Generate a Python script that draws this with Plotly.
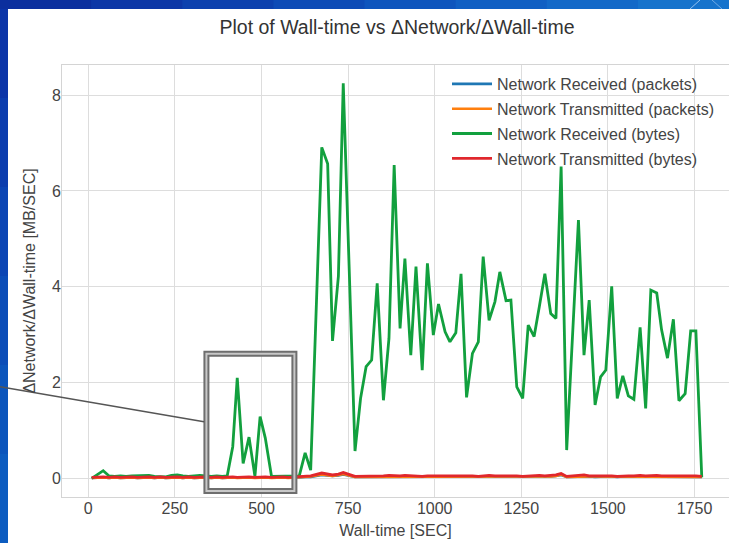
import plotly.graph_objects as go

# ---------------- data ----------------
wall_time = [
    10, 26, 43, 60, 76, 93, 109, 126, 142, 159, 175, 191, 208, 224, 240, 257, 273, 289, 306, 322, 338, 355, 371, 387, 401,
    417, 430, 447, 464, 481, 496, 511, 529, 545, 561, 577, 593, 609, 626, 642,
    674, 691, 705, 722, 736,
    770, 786, 802, 818, 834, 852, 868, 883, 900, 914, 931, 946, 964, 979, 996, 1011, 1030, 1044, 1061, 1076,
    1092, 1109, 1126, 1140, 1157, 1174, 1188, 1206, 1220, 1237, 1254, 1270, 1287, 1302, 1318, 1335, 1350, 1365, 1381,
    1415, 1431, 1446, 1463, 1479, 1494, 1511, 1527, 1543, 1559, 1575, 1593, 1609, 1624, 1641, 1655, 1672, 1689,
    1705, 1723, 1739, 1754, 1771,
]

recv_bytes = [
    0.00, 0.08, 0.16, 0.05, 0.04, 0.05, 0.04, 0.05, 0.05, 0.05, 0.06, 0.04, 0.04, 0.03, 0.06, 0.07, 0.05, 0.04, 0.05, 0.06, 0.05, 0.04, 0.05, 0.04, 0.05,
    0.66, 2.10, 0.31, 0.86, 0.04, 1.29, 0.84, 0.04, 0.04, 0.05, 0.04, 0.05, 0.05, 0.53, 0.17,
    6.91, 6.57, 2.87, 4.22, 8.25,
    0.57, 1.67, 2.33, 2.47, 4.07, 1.63, 2.92, 6.54, 3.13, 4.59, 2.57, 4.42, 2.26, 4.49, 2.99, 3.64, 3.06, 2.85, 3.04, 4.27,
    1.69, 2.61, 2.85, 4.63, 3.30, 3.69, 4.31, 3.71, 3.72, 1.91, 1.67, 3.20, 2.96, 3.58, 4.27, 3.44, 3.34, 6.51, 0.59,
    5.39, 2.57, 3.72, 1.53, 2.12, 2.26, 4.01, 1.67, 2.14, 1.72, 1.65, 3.15, 1.46, 3.93, 3.87, 3.10, 2.51, 3.32,
    1.62, 1.77, 3.08, 3.08, 0.02,
]

trans_bytes = [
    0.02, 0.03, 0.03, 0.02, 0.03, 0.02, 0.03, 0.03, 0.02, 0.03, 0.03, 0.02, 0.03, 0.02, 0.03, 0.03, 0.02, 0.03, 0.02, 0.03, 0.03, 0.02, 0.03, 0.02, 0.03,
    0.03, 0.02, 0.03, 0.03, 0.02, 0.03, 0.03, 0.02, 0.03, 0.03, 0.02, 0.03, 0.03, 0.04, 0.05,
    0.11, 0.08, 0.07, 0.09, 0.12,
    0.04, 0.04, 0.05, 0.04, 0.05, 0.05, 0.06, 0.05, 0.05, 0.06, 0.05, 0.05, 0.04, 0.05, 0.05, 0.05, 0.06, 0.05, 0.05, 0.06,
    0.05, 0.05, 0.04, 0.05, 0.06, 0.05, 0.05, 0.06, 0.05, 0.05, 0.04, 0.05, 0.05, 0.06, 0.05, 0.06, 0.07, 0.10, 0.04,
    0.06, 0.07, 0.05, 0.05, 0.06, 0.05, 0.05, 0.04, 0.05, 0.05, 0.05, 0.06, 0.05, 0.06, 0.06, 0.05, 0.05, 0.06,
    0.05, 0.05, 0.06, 0.05, 0.04,
]

trans_packets = [
    0.01, 0.02, 0.02, 0.01, 0.02, 0.01, 0.02, 0.02, 0.01, 0.02, 0.02, 0.01, 0.02, 0.01, 0.02, 0.02, 0.01, 0.02, 0.01, 0.02, 0.02, 0.01, 0.02, 0.01, 0.02,
    0.02, 0.01, 0.02, 0.02, 0.01, 0.02, 0.02, 0.01, 0.02, 0.02, 0.01, 0.02, 0.02, 0.03, 0.04,
    0.08, 0.06, 0.05, 0.07, 0.09,
    0.03, 0.03, 0.04, 0.03, 0.04, 0.04, 0.04, 0.04, 0.03, 0.04, 0.04, 0.04, 0.03, 0.04, 0.04, 0.04, 0.04, 0.04, 0.03, 0.04,
    0.04, 0.04, 0.03, 0.04, 0.04, 0.04, 0.04, 0.04, 0.04, 0.04, 0.03, 0.04, 0.04, 0.04, 0.04, 0.04, 0.05, 0.08, 0.03,
    0.04, 0.05, 0.04, 0.04, 0.04, 0.04, 0.04, 0.03, 0.04, 0.04, 0.04, 0.04, 0.04, 0.04, 0.04, 0.04, 0.04, 0.04,
    0.04, 0.04, 0.04, 0.04, 0.03,
]

recv_packets = [
    0.01, 0.02, 0.02, 0.01, 0.02, 0.01, 0.02, 0.02, 0.01, 0.02, 0.02, 0.01, 0.02, 0.01, 0.02, 0.02, 0.01, 0.02, 0.01, 0.02, 0.02, 0.01, 0.02, 0.01, 0.02,
    0.02, 0.02, 0.02, 0.02, 0.01, 0.02, 0.02, 0.01, 0.02, 0.02, 0.01, 0.02, 0.02, 0.03, 0.03,
    0.07, 0.06, 0.05, 0.06, 0.08,
    0.03, 0.03, 0.03, 0.03, 0.04, 0.03, 0.04, 0.04, 0.03, 0.04, 0.03, 0.04, 0.03, 0.04, 0.03, 0.04, 0.04, 0.03, 0.03, 0.04,
    0.03, 0.04, 0.03, 0.04, 0.04, 0.04, 0.04, 0.04, 0.04, 0.03, 0.03, 0.04, 0.04, 0.04, 0.04, 0.04, 0.05, 0.07, 0.03,
    0.04, 0.04, 0.04, 0.03, 0.04, 0.04, 0.04, 0.03, 0.04, 0.04, 0.03, 0.04, 0.03, 0.04, 0.04, 0.04, 0.03, 0.04,
    0.03, 0.04, 0.04, 0.04, 0.03,
]

series_names = [
    "Network Received (packets)",
    "Network Transmitted (packets)",
    "Network Received (bytes)",
    "Network Transmitted (bytes)",
]
x_ticks = [0, 250, 500, 750, 1000, 1250, 1500, 1750]
y_ticks = [0, 2, 4, 6, 8]

for s in (recv_bytes, trans_bytes, trans_packets, recv_packets):
    assert len(s) == len(wall_time), (len(s), len(wall_time))

# ---------------- figure ----------------
W, H = 729, 543
ML, MR, MT, MB = 62, 0, 65, 46
PW, PH = W - ML - MR, H - MT - MB


def px(x):
    return (x - ML) / PW


def py(y):
    return (H - MB - y) / PH


colors = ["#1f77b4", "#ff7f0e", "#12a03e", "#e0272d"]
widths = [2.6, 2.6, 2.8, 2.8]
values = [recv_packets, trans_packets, recv_bytes, trans_bytes]

fig = go.Figure()
for i, (name, vals) in enumerate(zip(series_names, values)):
    fig.add_trace(go.Scatter(
        x=wall_time, y=vals, mode="lines", name=name,
        line=dict(color=colors[i], width=widths[i]),
        legendgroup=f"g{i}",
    ))

font_family = "Liberation Sans, Arial, sans-serif"
text_col = "#444444"
grid_col = "#dddddd"

shapes = []
# white slide panel over blue background
shapes.append(dict(type="rect", xref="paper", yref="paper", layer="below",
                   x0=px(8), x1=px(W + 5), y0=py(9), y1=py(H + 5),
                   fillcolor="white", line=dict(width=0)))
# top blue band gradient
top_cols = ["#0b2f9e", "#0c37a6", "#0c41ae", "#0d4bb6", "#0e55bd", "#105fc3", "#1369c8", "#1673cc"]
n = len(top_cols)
for k, c in enumerate(top_cols):
    shapes.append(dict(type="rect", xref="paper", yref="paper", layer="below",
                       x0=px(W * k / n), x1=px(W * (k + 1) / n + 1), y0=py(9), y1=py(-2),
                       fillcolor=c, line=dict(width=0)))
# left blue band gradient
left_cols = ["#0b35a8", "#0b3dae", "#0b45b4", "#0b4db8", "#0b55bc", "#0c5cc0"]
n = len(left_cols)
for k, c in enumerate(left_cols):
    shapes.append(dict(type="rect", xref="paper", yref="paper", layer="below",
                       x0=px(-2), x1=px(8), y0=py(9 + (H - 9) * k / n), y1=py(9 + (H - 9) * (k + 1) / n + 1),
                       fillcolor=c, line=dict(width=0)))
# decorative light curves in the top band
shapes.append(dict(type="line", xref="paper", yref="paper", x0=px(690), y0=py(9), x1=px(700), y1=py(0),
                   line=dict(color="rgba(200,225,255,0.7)", width=1)))
shapes.append(dict(type="line", xref="paper", yref="paper", x0=px(712), y0=py(0), x1=px(722), y1=py(9),
                   line=dict(color="rgba(200,225,255,0.5)", width=1)))

# annotation box (double line) around the early burst
shapes.append(dict(type="rect", xref="x", yref="y", x0=341, x1=595, y0=-0.265, y1=2.60,
                   line=dict(color="#6e6e6e", width=6), fillcolor="rgba(0,0,0,0)"))
shapes.append(dict(type="rect", xref="x", yref="y", x0=341, x1=595, y0=-0.265, y1=2.60,
                   line=dict(color="#c8c8c8", width=2), fillcolor="rgba(0,0,0,0)"))
# connector line
shapes.append(dict(type="line", xref="paper", yref="paper",
                   x0=px(0), y0=py(386.7), x1=px(204), y1=py(421.7),
                   line=dict(color="#555555", width=1.5)))

fig.update_layout(
    width=W, height=H,
    margin=dict(l=ML, r=MR, t=MT, b=MB, pad=0),
    paper_bgcolor="#0b47b5",
    plot_bgcolor="white",
    font=dict(family=font_family, color=text_col, size=16),
    title=dict(text="Plot of Wall-time vs ΔNetwork/ΔWall-time",
               x=px(397), xref="paper", xanchor="center",
               y=1 - 27 / H, yref="container", yanchor="middle",
               font=dict(size=19.5, color="#333333", family=font_family)),
    xaxis=dict(range=[-75.9, 1849.6], tickvals=x_ticks, showgrid=True, gridcolor=grid_col, gridwidth=1,
               zeroline=False, showline=True, linecolor="#d4d4d4", linewidth=1, mirror=True,
               ticks="outside", ticklen=1, tickcolor="rgba(0,0,0,0)", ticklabelstandoff=-4,
               tickfont=dict(size=16, color=text_col),
               title=dict(text="Wall-time [SEC]", standoff=8, font=dict(size=16, color=text_col))),
    yaxis=dict(range=[-0.39, 8.63], tickvals=y_ticks, showgrid=True, gridcolor=grid_col, gridwidth=1,
               zeroline=False, showline=True, linecolor="#d4d4d4", linewidth=1, mirror=True,
               ticks="outside", ticklen=2, tickcolor="rgba(0,0,0,0)", ticklabelstandoff=-5,
               tickfont=dict(size=16, color=text_col),
               title=dict(text="ΔNetwork/ΔWall-time [MB/SEC]", standoff=12, font=dict(size=16, color=text_col))),
    legend=dict(x=px(447), y=py(67), xanchor="left", yanchor="top",
                bgcolor="rgba(0,0,0,0)", borderwidth=0, tracegroupgap=1, itemwidth=40,
                font=dict(size=16, color=text_col)),
    shapes=shapes,
    showlegend=True,
)

fig.write_html("out.html")
